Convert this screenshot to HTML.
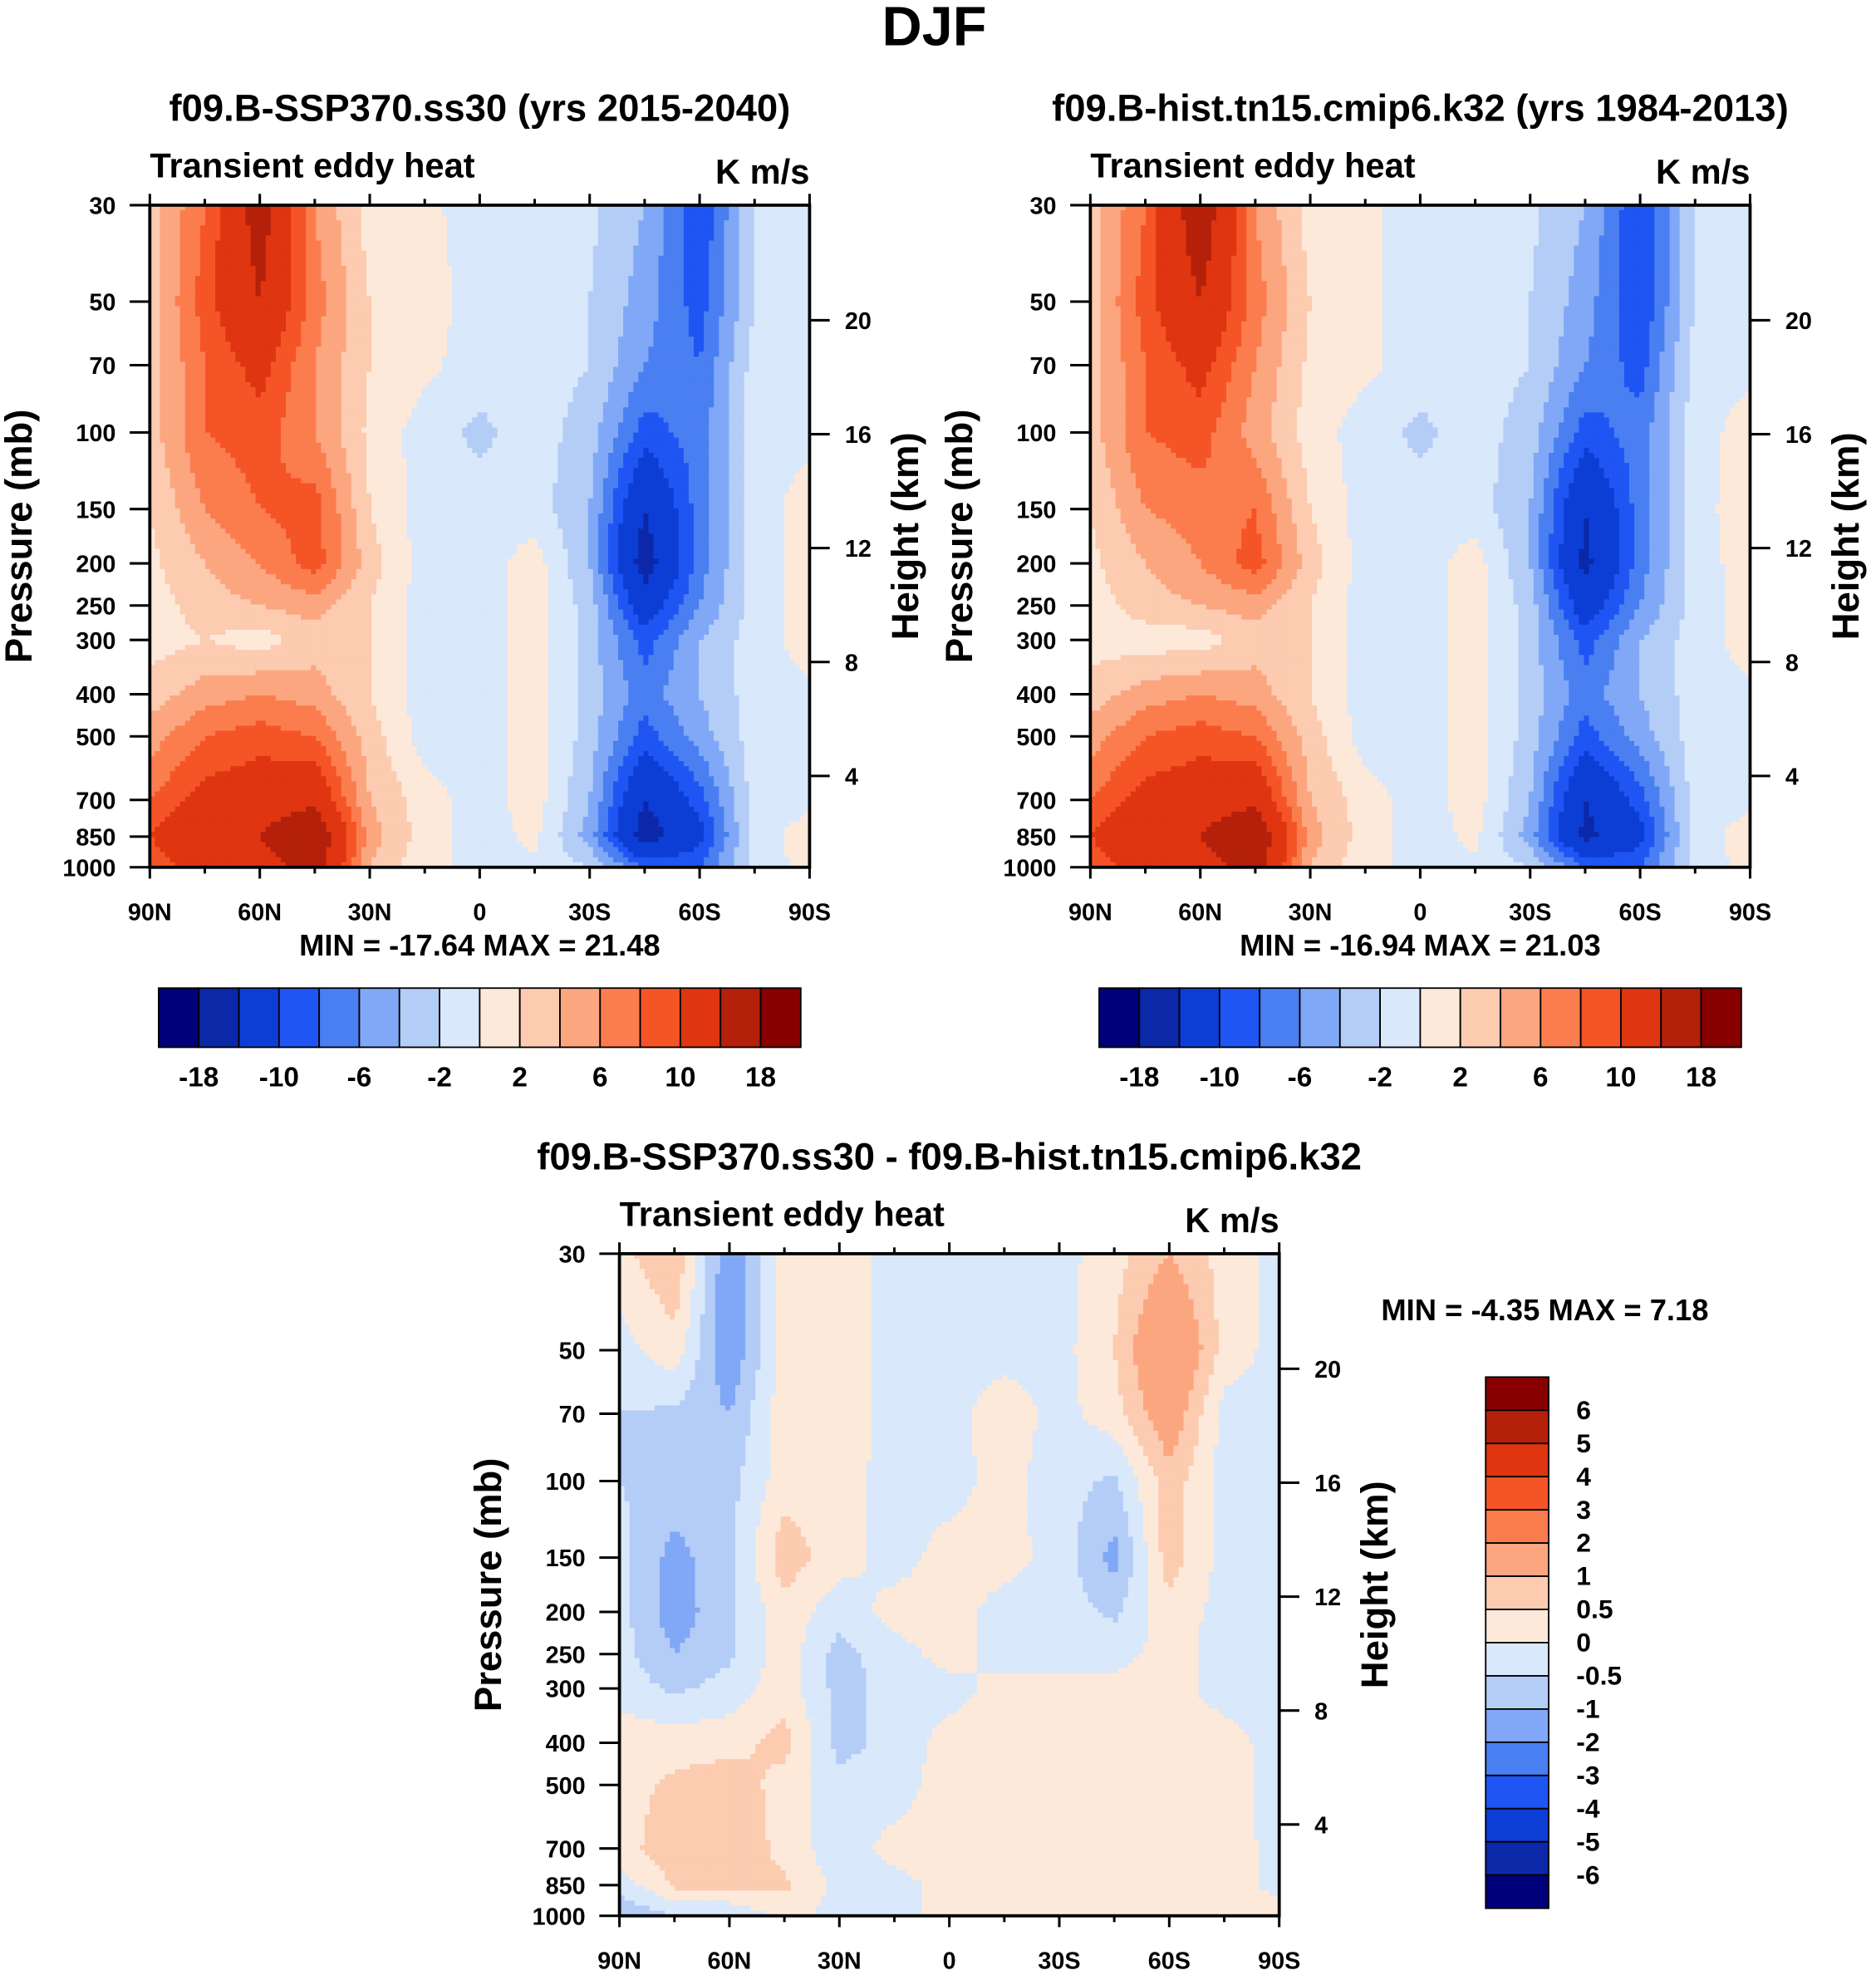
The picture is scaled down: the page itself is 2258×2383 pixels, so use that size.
<!DOCTYPE html>
<html><head><meta charset="utf-8">
<style>html,body{margin:0;padding:0;background:#fff}svg{display:block}text{font-family:"Liberation Sans",sans-serif;font-weight:bold;fill:#000}</style>
</head><body>
<svg id="fig" width="2258" height="2383" viewBox="0 0 1490 1573" preserveAspectRatio="none" xmlns="http://www.w3.org/2000/svg">
<text x="742" y="36" font-size="44" text-anchor="middle">DJF</text>
</svg>
<script>
// ---- data ----
const lats = [90,75,60,45,30,15,0,-15,-30,-45,-60,-75,-90];
const plevs = [30,50,70,100,150,200,250,300,400,500,700,850,1000];
const pTicks = [30,50,70,100,150,200,250,300,400,500,700,850,1000];
const hTicks = [20,16,12,8,4];
const latTickLabels = ["90N","60N","30N","0","30S","60S","90S"];
const levelsAbs = [-18,-14,-10,-8,-6,-4,-2,0,2,4,6,8,10,14,18];
const levelsAbsLabels = ["-18","-10","-6","-2","2","6","10","18"];
const levelsDiff = [-6,-5,-4,-3,-2,-1,-0.5,0,0.5,1,2,3,4,5,6];
const levelsDiffLabels = ["6","5","4","3","2","1","0.5","0","-0.5","-1","-2","-3","-4","-5","-6"];
const colors = ["#00007a","#0a28a8","#0c3ed6","#1f55f2","#4a7ff2","#80a8f6","#b4cdf7","#d9e8fb","#fde9d9","#fccbb0","#fca680","#fb7d4e","#f55427","#df3510","#b5200a","#880000"];
const fieldA = [
[3,8,16,6,1,0.5,-1,-1,-1.5,-4,-10,-2,-0.5],
[3,9,14,7,2,1,-1,-1,-2,-5,-9,-2,-0.5],
[3,8,11,6,2,0.5,-1,-1,-2,-6,-8,-1,-0.5],
[3,8,9,6,1.5,-1,-2.5,-1,-3,-9,-7,-1,-0.5],
[2,6,8,9,2,-1,-1,-1,-4,-14,-7,-1,1],
[1.5,4,6,9,3,-1,-1,1,-4,-16,-7,-1,1],
[1,3,4,5,2,-1,-1,1,-3,-12,-6,-1,1],
[1,2,1,3,2,-1,-1,1,-3,-9,-4,-1,1],
[3,5,6,5,2,-1,-1,1,-3,-7,-4,-1,-0.5],
[5,8,9,8,3,-1,-1,1,-3,-9,-5,-1,-0.5],
[8,11,12,13,4,1,-1,1,-4,-14,-9,-1,-0.5],
[10,14,14,18,5,1,-1,0.5,-5,-16,-11,-1,1],
[8,12,12,16,4,0.5,-0.5,-0.5,-2,-8,-8,-1,0.5]];
const fieldB = [
[3,8,17,6,1,0.5,-1,-1,-1.5,-4,-10,-2,-0.5],
[3,9,14,7,2,0.5,-1,-1,-2,-5,-10,-2,-0.5],
[3,8,11,6,1.5,0.5,-1,-1,-2,-6,-9,-1,-0.5],
[3,8,9,5,1,-1,-2.5,-1,-3,-9,-7,-1,1],
[2,6,7,8,2,-1,-1,-1,-4,-14,-7,-1,1.5],
[1.5,4,6,9,3,-1,-1,1,-4,-15,-7,-1,1],
[1,3,4,5,2,-1,-1,1,-3,-12,-6,-1,1],
[1,1,1,3,2,-1,-1,1,-3,-9,-4,-1,1],
[3,5,6,5,2,-1,-1,1,-3,-7,-4,-1,-0.5],
[5,8,9,8,3,-1,-1,1,-3,-9,-5,-1,-0.5],
[8,11,12,13,4,1,-1,1,-4,-14,-9,-1,-0.5],
[10,14,14,18,5,1,-1,0.5,-5,-15,-11,-1,1],
[8,12,12,16,4,0.5,-0.5,-0.5,-2,-8,-8,-1,0.5]];
const fieldD = [
[0.3,1,-1.5,0.3,0.3,-0.2,-0.2,-0.2,-0.2,0.3,1,0.3,-0.2],
[-0.2,0.3,-1.5,0.3,0.3,-0.2,-0.2,-0.2,-0.2,0.5,2,0.3,-0.2],
[-0.5,-0.6,-1,0.3,0.3,-0.2,-0.2,0.3,-0.2,0.3,1.5,-0.2,-0.2],
[-0.5,-0.7,-0.7,0.3,0.2,-0.2,-0.2,0.2,-0.3,-0.6,0.8,-0.2,-0.2],
[-0.3,-1.2,-0.6,0.8,0.2,-0.2,0.2,0.2,-0.2,-1.2,0.8,-0.2,-0.2],
[-0.3,-1.3,-0.6,0.3,-0.3,0.2,0.2,-0.2,-0.2,-0.6,0.3,-0.2,-0.2],
[-0.3,-1,-0.6,0.3,-0.7,-0.2,0.2,-0.2,-0.2,-0.2,0.2,-0.2,-0.2],
[-0.2,-0.6,-0.3,0.3,-0.7,-0.3,-0.2,0.2,0.2,0.2,0.2,-0.2,-0.2],
[0.3,0.3,0.3,0.7,-0.7,-0.3,0.2,0.2,0.3,0.3,0.2,0.2,-0.2],
[0.3,0.6,0.8,0.3,-0.3,-0.3,0.3,0.2,0.3,0.3,0.3,0.2,-0.2],
[0.3,0.8,1,0.3,-0.3,0.2,0.3,0.2,0.3,0.2,0.3,0.3,-0.2],
[-0.3,0.6,0.7,0.6,-0.2,-0.2,0.2,0.2,0.3,0.2,0.3,0.3,-0.2],
[-1,-0.5,-0.5,0.2,-0.2,-0.2,0.2,0.2,0.2,0.2,0.2,0.2,0.3]];

const NS="http://www.w3.org/2000/svg";
const svg=document.getElementById('fig');
function mk(tag,attrs,parent){const e=document.createElementNS(NS,tag);for(const k in attrs)e.setAttribute(k,attrs[k]);(parent||svg).appendChild(e);return e;}
function txt(s,x,y,size,anchor,parent){const t=mk('text',{x:x,y:y,'font-size':size,'text-anchor':anchor||'start'},parent);t.textContent=s;return t;}
function colorFor(v,lev){let i=0;while(i<lev.length&&v>=lev[i])i++;return colors[i];}
function interp(field,lat,p){
  let fi=(90-lat)/15; fi=Math.max(0,Math.min(12,fi));
  let i0=Math.min(11,Math.floor(fi)),tx=fi-i0;
  let lp=Math.log(p),j0=0;
  while(j0<11&&Math.log(plevs[j0+1])<lp)j0++;
  let ty=(lp-Math.log(plevs[j0]))/(Math.log(plevs[j0+1])-Math.log(plevs[j0]));ty=Math.max(0,Math.min(1,ty));
  const a=field[j0][i0],b=field[j0][i0+1],c=field[j0+1][i0],d=field[j0+1][i0+1];
  return (a*(1-tx)+b*tx)*(1-ty)+(c*(1-tx)+d*tx)*ty;
}
function panel(name,field,lev,x0,y0,opts){
  const W=524,H=526;
  const g=mk('g',{});
  
  
  const xS=lat=>x0+(90-lat)/180*W;
  const yS=p=>y0+H-Math.log(1000/p)/Math.log(1000/30)*H;
  const N=131,M=131,cw=W/N,ch=H/M;
  const cells=mk('g',{},g);
  
  
  for(let i=0;i<N;i++){for(let j=0;j<M;j++){
    const lat=90-(i+0.5)/N*180;
    const yc=y0+(j+0.5)*ch;
    const p=1000*Math.pow(1000/30,-(y0+H-yc)/H);
    const v=interp(field,lat,p);
    const r=mk('rect',{x:(x0+i*cw).toFixed(2),y:(y0+j*ch).toFixed(2),width:(cw+0.5).toFixed(2),height:(ch+0.5).toFixed(2),fill:colorFor(v,lev)},cells);
    
    
  }}
  const fr=mk('rect',{x:x0,y:y0,width:W,height:H,fill:'none',stroke:'#000','stroke-width':2.5},g);
  
  
  for(let k=0;k<=12;k++){const lat=90-k*15,x=xS(lat),L=(k%2==0)?9:5;
    mk('line',{x1:x,x2:x,y1:y0,y2:y0-L,stroke:'#000','stroke-width':2},g);
    mk('line',{x1:x,x2:x,y1:y0+H,y2:y0+H+L,stroke:'#000','stroke-width':2},g);}
  latTickLabels.forEach((s,k)=>{const t=txt(s,xS(90-k*30),y0+H+42,19,'middle',g);});
  pTicks.forEach(p=>{const y=yS(p);mk('line',{x1:x0-16,x2:x0,y1:y,y2:y,stroke:'#000','stroke-width':2},g);
    const t=txt(String(p),x0-27,y+7,19,'end',g);});
  hTicks.forEach(h=>{const p=1127*Math.exp(-h/6.63);const y=yS(p);mk('line',{x1:x0+W,x2:x0+W+16,y1:y,y2:y,stroke:'#000','stroke-width':2},g);
    const t=txt(String(h),x0+W+28,y+7,19,'start',g);});
  let t=txt('Transient eddy heat',x0,y0-22,27.5,'start',g);
  t=txt('K m/s',x0+W,y0-17,27.5,'end',g);
  t=txt(opts.title,x0+W/2,y0-67,30,'middle',g);
  t=mk('text',{x:0,y:0,'font-size':30,'text-anchor':'middle',transform:`translate(${x0-94},${y0+H/2}) rotate(-90)`},g);t.textContent='Pressure (mb)';
  
  t=mk('text',{x:0,y:0,'font-size':30,'text-anchor':'middle',transform:`translate(${x0+W+86},${y0+H/2}) rotate(-90)`},g);t.textContent='Height (km)';
  
}
panel('panel-ssp370',fieldA,levelsAbs,119,163,{title:'f09.B-SSP370.ss30 (yrs 2015-2040)'});
panel('panel-hist',fieldB,levelsAbs,866,163,{title:'f09.B-hist.tn15.cmip6.k32 (yrs 1984-2013)'});
panel('panel-diff',fieldD,levelsDiff,492,996,{title:'f09.B-SSP370.ss30 - f09.B-hist.tn15.cmip6.k32'});
let t;
t=txt('MIN = -17.64  MAX =  21.48',381,759,24,'middle');t.setAttribute('xml:space','preserve');
t=txt('MIN = -16.94  MAX =  21.03',1128,759,24,'middle');t.setAttribute('xml:space','preserve');
t=txt('MIN =  -4.35  MAX =   7.18',1227,1049,24,'middle');t.setAttribute('xml:space','preserve');
function hbar(name,x0){const w=510/16;const g=mk('g',{});
  colors.forEach((c,i)=>{const r=mk('rect',{x:x0+i*w,y:785,width:w,height:47,fill:c,stroke:'#000','stroke-width':1.2},g);});
  levelsAbsLabels.forEach((s,k)=>{const tt=txt(s,x0+(1+2*k)*w,863,22,'middle',g);});}
hbar('colorbar-ssp370',126);hbar('colorbar-hist',873);
(function(){const g=mk('g',{});
  const y0=1094,h=422/16;
  for(let i=0;i<16;i++){const r=mk('rect',{x:1180,y:y0+i*h,width:50,height:h,fill:colors[15-i],stroke:'#000','stroke-width':1.2},g);}
  levelsDiffLabels.forEach((s,k)=>{const tt=txt(s,1252,y0+(k+1)*h+7,21,'start',g);});
})();
</script>
</body></html>
